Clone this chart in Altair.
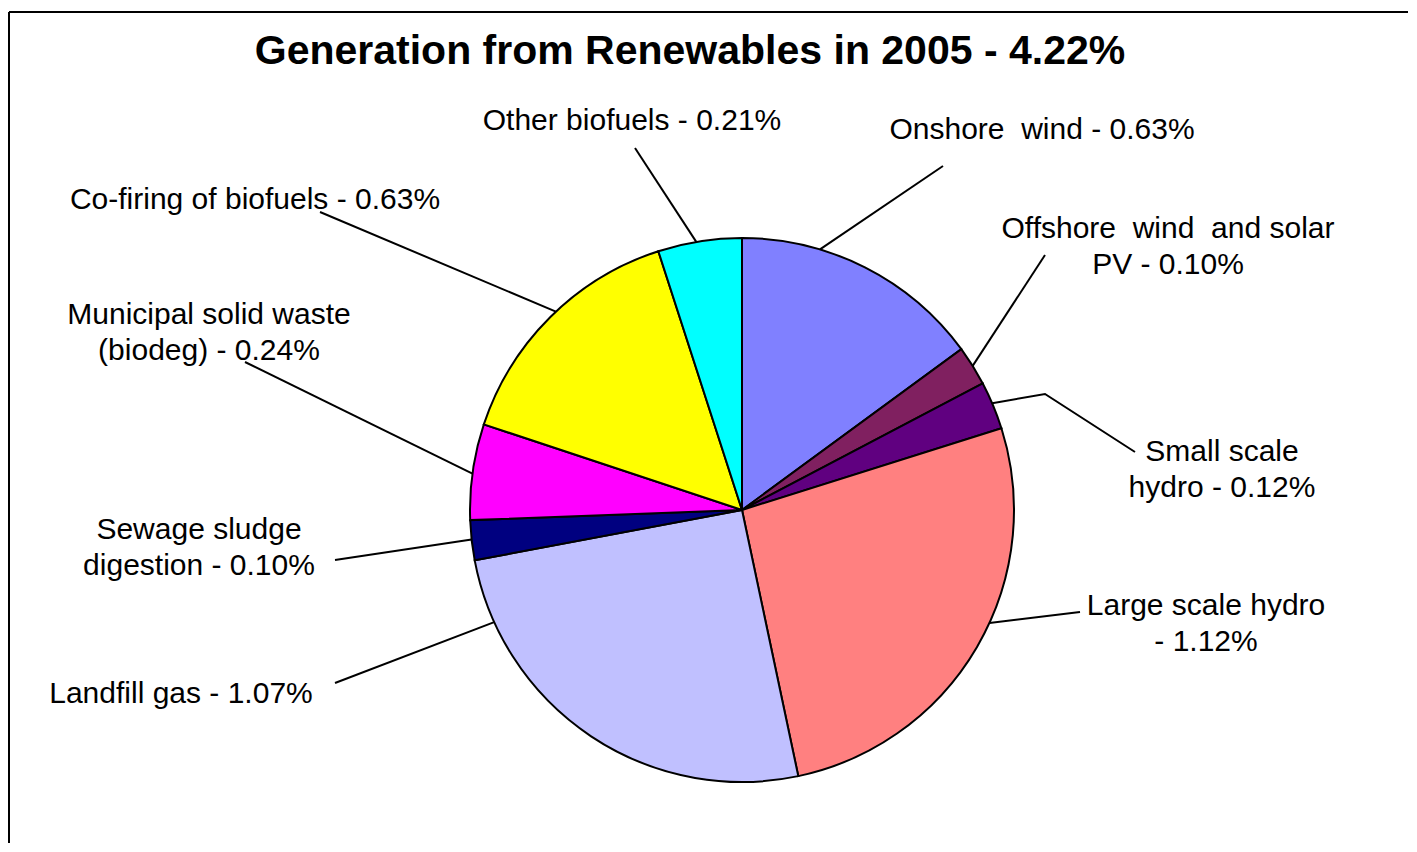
import numpy as np
import pandas as pd
import altair as alt

# ---------------- data ----------------
categories = [
    "Onshore wind",
    "Offshore wind and solar PV",
    "Small scale hydro",
    "Large scale hydro",
    "Landfill gas",
    "Sewage sludge digestion",
    "Municipal solid waste (biodeg)",
    "Co-firing of biofuels",
    "Other biofuels",
]
values = [0.63, 0.10, 0.12, 1.12, 1.07, 0.10, 0.24, 0.63, 0.21]
label_texts = [
    "Onshore\u00a0 wind - 0.63%",
    "Offshore\u00a0 wind\u00a0 and solar\nPV - 0.10%",
    "Small scale\nhydro - 0.12%",
    "Large scale hydro\n- 1.12%",
    "Landfill gas - 1.07%",
    "Sewage sludge\ndigestion - 0.10%",
    "Municipal solid waste\n(biodeg) - 0.24%",
    "Co-firing of biofuels - 0.63%",
    "Other biofuels - 0.21%",
]
title_text = "Generation from Renewables in 2005 - 4.22%"

# ---------------- styles / layout ----------------
colors = ["#8080FF", "#802060", "#600080", "#FF8080", "#C0C0FF",
          "#000080", "#FF00FF", "#FFFF00", "#00FFFF"]
M = 8                      # page margin
CX, CY, R = 742, 510, 272  # pie centre and radius (page px)
# (centre x, first-line centre y) of each label, page px
label_pos = [(1042, 130), (1168, 229), (1222, 452), (1206, 606), (181, 694),
             (199, 530), (209, 315), (255, 200), (632, 121)]
attach_frac = [0.31, 0.5, 0.45, 0.44, 0.85, 0.52, 0.48, 0.53, 0.46]
leader_ends = [[(943, 166)], [(1045, 255)], [(1045, 394), (1135, 452)],
               [(1080, 612)], [(335, 683)], [(335, 560)], [(245, 362)],
               [(320, 212)], [(635, 148)]]
FONT = "Liberation Sans"
LW = 2

# ---------------- tables ----------------
pie_df = pd.DataFrame({"cat": categories, "value": values,
                       "idx": list(range(len(values)))})

vals = np.array(values)
total = vals.sum()
cum_end = np.cumsum(vals) / total * 2 * np.pi
cum_start = cum_end - vals / total * 2 * np.pi

line_rows = []
for i, cat in enumerate(categories):
    t = cum_start[i] + attach_frac[i] * (cum_end[i] - cum_start[i])
    pts = [(CX + R * np.sin(t), CY - R * np.cos(t))] + leader_ends[i]
    for j, (px, py) in enumerate(pts):
        line_rows.append({"cat": cat, "pt": j, "px": px - M, "py": py - M})
lines_df = pd.DataFrame(line_rows)

labels_df = pd.DataFrame({
    "cat": categories,
    "text": label_texts,
    "px": [p[0] - M for p in label_pos],
    "py": [p[1] - M for p in label_pos],
})
title_df = pd.DataFrame({"text": [title_text]})
one = pd.DataFrame({"k": [0]})

# ---------------- marks ----------------
frame_left = alt.Chart(one).mark_rule(color="black", strokeWidth=LW).encode(
    x=alt.value(1), y=alt.value(4), y2=alt.value(836))
frame_top = alt.Chart(one).mark_rule(color="black", strokeWidth=LW).encode(
    x=alt.value(1), x2=alt.value(1410), y=alt.value(4))

pie = alt.Chart(pie_df).mark_arc(outerRadius=R, stroke="black",
                                 strokeWidth=LW).encode(
    theta=alt.Theta("value:Q", stack=True),
    color=alt.Color("cat:N", scale=alt.Scale(domain=categories, range=colors),
                    legend=None),
    order=alt.Order("idx:Q"),
    x=alt.value(CX - M),
    y=alt.value(CY - M),
)

lines = alt.Chart(lines_df).mark_line(color="black", strokeWidth=LW).encode(
    x=alt.X("px:Q", scale=None, axis=None),
    y=alt.Y("py:Q", scale=None, axis=None),
    detail="cat:N",
    order="pt:Q",
)

labels = alt.Chart(labels_df).mark_text(
    font=FONT, fontSize=30, color="black", align="center", baseline="middle",
    lineBreak="\n", lineHeight=36,
).encode(
    x=alt.X("px:Q", scale=None, axis=None),
    y=alt.Y("py:Q", scale=None, axis=None),
    text="text:N",
)

title = alt.Chart(title_df).mark_text(
    font=FONT, fontSize=41, fontWeight="bold", color="black",
    align="center", baseline="middle",
).encode(
    x=alt.value(690 - M), y=alt.value(52 - M), text="text:N")

chart = alt.layer(frame_left, frame_top, pie, lines, labels, title).properties(
    width=1400, height=835, padding=0, autosize="none",
    background="white",
).configure_view(stroke=None)

chart.save("out.html", embed_options={"renderer": "svg", "actions": False})
